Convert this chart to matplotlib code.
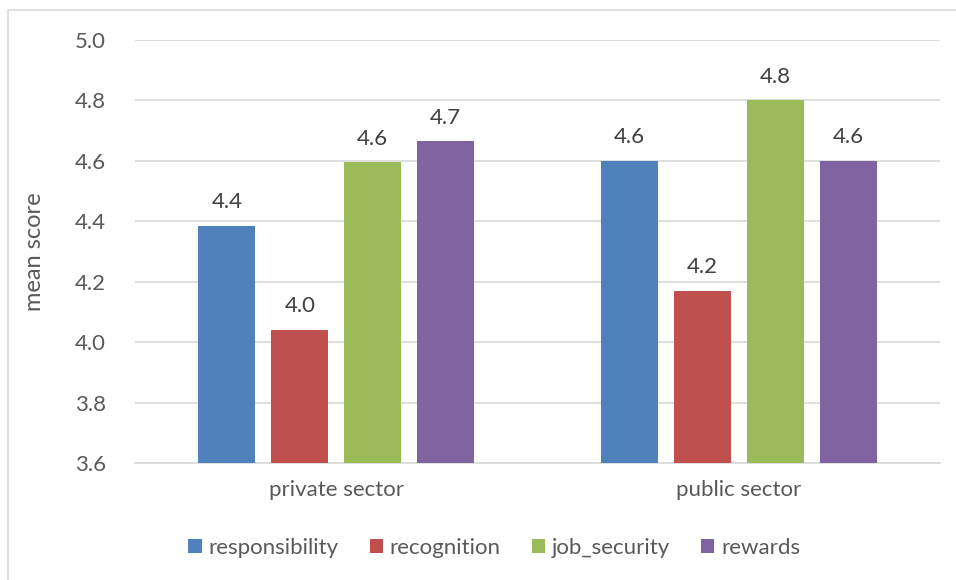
import numpy as np
import matplotlib
matplotlib.use("Agg")
import matplotlib.pyplot as plt
from matplotlib.patches import Rectangle

plt.rcParams['font.family'] = ['Lato', 'DejaVu Sans']

sectors = ['private sector', 'public sector']
series = ['responsibility', 'recognition', 'job_security', 'rewards']
responsibility = [4.385, 4.60]
recognition = [4.04, 4.17]
job_security = [4.595, 4.80]
rewards = [4.665, 4.60]
values = [responsibility, recognition, job_security, rewards]
colors = ['#4F81BD', '#C0504D', '#9BBB59', '#8064A2']

txt = '#595959'
fs = 16

fig = plt.figure(figsize=(9.56, 5.8), dpi=100)
ax = fig.add_axes([135/956, 1 - 463/580, 805/956, 423/580])

# chart area border
fig.patches.append(Rectangle((8/956, -0.1), 1.1, 1 - 10/580 + 0.1, transform=fig.transFigure,
                             fill=False, edgecolor='#D9D9D9', linewidth=1.2))

x = np.arange(len(sectors))
width = 0.1416
step = 0.181
for i, (name, vals, c) in enumerate(zip(series, values, colors)):
    pos = x + (i - 1.5) * step
    ax.bar(pos, np.array(vals) - 3.6, width, bottom=3.6, color=c, label=name, zorder=3)
    for p, v in zip(pos, vals):
        ax.text(p, v + 0.045, f'{v:.1f}', ha='center', va='bottom', fontsize=fs, color='#404040')

ax.set_xlim(-0.5, 1.5)
ax.set_ylim(3.6, 5.0)
ax.set_yticks(np.arange(3.6, 5.01, 0.2))
ax.set_yticklabels([f'{t:.1f}' for t in np.arange(3.6, 5.01, 0.2)])
ax.set_xticks(x)
ax.set_xticklabels(sectors)
ax.grid(axis='y', color='#D9D9D9', linewidth=1.2, zorder=0)
for s in ['top', 'right', 'left']:
    ax.spines[s].set_visible(False)
ax.spines['bottom'].set_color('#D9D9D9')
ax.spines['bottom'].set_linewidth(1.2)
ax.tick_params(axis='both', length=0, labelsize=fs, labelcolor=txt)
ax.tick_params(axis='y', pad=21)
ax.tick_params(axis='x', pad=12)
ax.set_ylabel('mean score', fontsize=17, color=txt)
ax.yaxis.set_label_coords(-0.112, 0.5)

fig.legend(loc='center', bbox_to_anchor=(0.517, 1 - 548/580), ncol=4, frameon=False,
           fontsize=fs, labelcolor=txt, handlelength=0.6, handleheight=0.6,
           handletextpad=0.3, columnspacing=1.4)

fig.savefig('out.png', dpi=100)
